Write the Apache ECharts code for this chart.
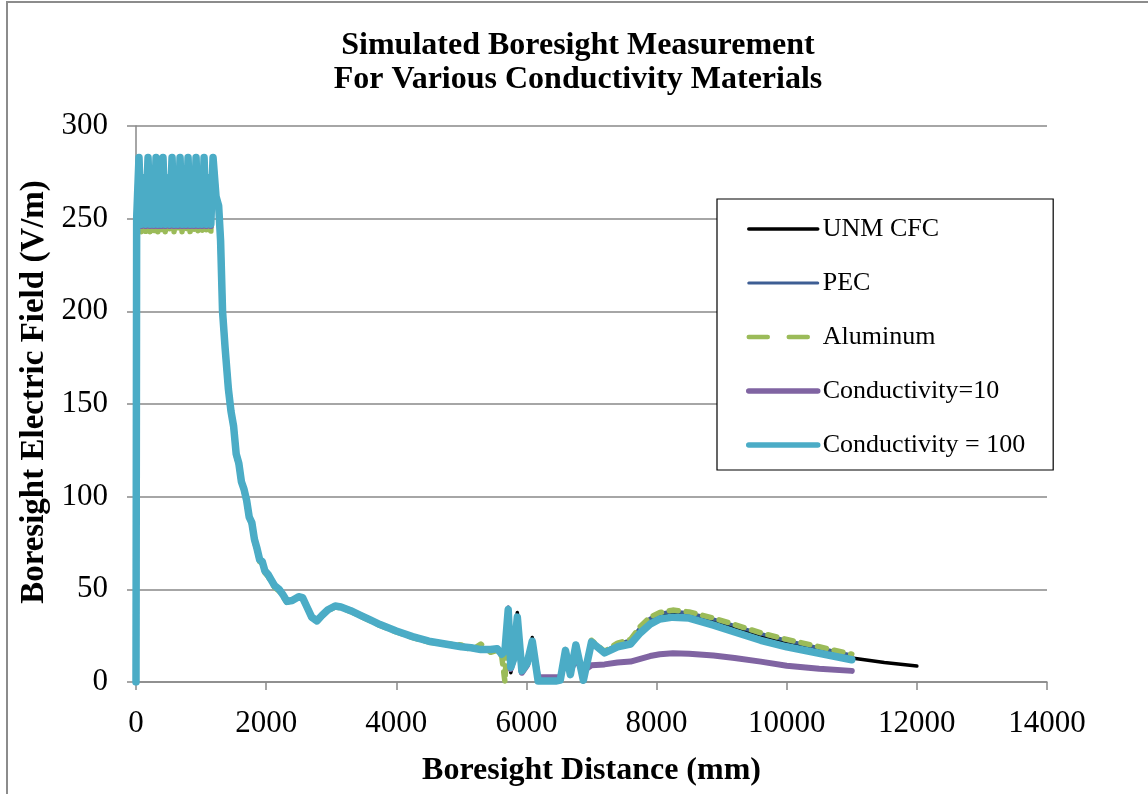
<!DOCTYPE html>
<html>
<head>
<meta charset="utf-8">
<script src="https://cdn.jsdelivr.net/npm/echarts@6/dist/echarts.min.js"></script>
<style>
html,body{margin:0;padding:0;background:#fff;}
#chart{width:1148px;height:794px;}
</style>
</head>
<body>
<div id="chart"></div>
<script>
// ---- data (mm, V/m) ----
const seriesNames = ['UNM CFC', 'PEC', 'Aluminum', 'Conductivity=10', 'Conductivity = 100'];
const xTicks = [0, 2000, 4000, 6000, 8000, 10000, 12000, 14000];
const yTicks = [0, 50, 100, 150, 200, 250, 300];

const distanceMm = [
  0, 10,
  46, 81, 115, 150, 185, 216, 246, 277, 308, 335, 362, 388, 415, 450, 485, 519, 554, 585, 615, 646,
  677, 708, 738, 769, 800, 831, 862, 892, 923, 954, 985, 1015, 1046, 1080, 1115, 1150, 1184,
  1230, 1270, 1300, 1330, 1370, 1420, 1460, 1500, 1540, 1580, 1620, 1660, 1700, 1740, 1780, 1820, 1860, 1900, 1940, 1980, 2030, 2080, 2130, 2200, 2260, 2320,
  2400, 2500, 2560, 2620, 2700, 2780, 2860, 2950, 3060, 3150, 3300, 3450, 3600, 3750, 4000, 4250, 4500, 4750, 5000, 5150, 5300, 5450,
  5550, 5620, 5670, 5720, 5760, 5800, 5860, 5930, 6010, 6090, 6180, 6300, 6450, 6520, 6600, 6675, 6760, 6875, 7000, 7200,
  7400, 7600, 7750, 7900, 8050, 8250, 8500, 8875, 9200, 9600, 10000, 10500, 11000
];

const unmCfcField = [
  0, 250,
  283, 246, 272, 246, 283, 246, 272, 246, 283, 246, 272, 246, 283, 246, 272, 246, 283, 246, 272, 246,
  283, 246, 272, 246, 283, 246, 272, 246, 283, 246, 272, 246, 283, 246, 272, 246, 283,
  263, 258, 238, 200, 180, 158, 146, 138, 123, 118, 108, 104, 98, 89, 86, 77, 72, 66, 65, 60, 58, 55, 52, 50, 47, 43.5,
  44, 46, 45.5, 41, 35, 33, 36, 39, 41.5, 41, 39, 36.5, 34, 31.5, 28, 25, 22.5, 21, 19.5, 19, 18, 18,
  18, 15, 17, 38, 5, 12, 37.5, 6, 10, 24, 0.5, 0.5, 0.5, 1, 18, 4, 20, 0, 21.5, 16,
  20, 21.8, 28.5, 33, 35.5, 36.5, 36, 32.5, 29, 24.5, 21, 17, 13
];
const unmCfcTailMm = [11000, 11500, 12000];
const unmCfcTailField = [13, 10.5, 8.6];

const pecField = [
  0, 250,
  283, 245, 272, 245, 283, 245, 272, 245, 283, 245, 272, 245, 283, 245, 272, 245, 283, 245, 272, 245,
  283, 245, 272, 245, 283, 245, 272, 245, 283, 245, 272, 245, 283, 245, 272, 245, 283,
  262, 257, 238, 200, 180, 158, 146, 138, 123, 118, 108, 104, 98, 89, 86, 77, 72, 66, 65, 60, 58, 55, 52, 50, 47, 43.5,
  44, 46, 45.5, 41, 35, 33, 36, 39, 41, 40.5, 38.5, 36, 33.5, 31, 27.5, 24.5, 22, 20.5, 19, 18.5, 17.5, 17.5,
  18.5, 15, 17, 40.5, 8, 12, 35, 6, 10, 22, 0.5, 0.5, 0.5, 1, 17.5, 4, 20.5, 1.5, 22, 16.3,
  20.7, 22.6, 29.5, 34.4, 37, 38.2, 37.2, 33.9, 30.4, 26, 22.4, 18.4, 14.4
];

const aluminumField = [
  0, 250,
  283, 243, 272, 243, 283, 243, 272, 243, 283, 243, 272, 243, 283, 243, 272, 243, 283, 243, 272, 243,
  283, 243, 272, 243, 283, 243, 272, 243, 283, 243, 272, 243, 283, 243, 272, 243, 283,
  262, 256, 237, 200, 179, 157, 145, 137, 122, 117, 107, 103, 97, 88, 85, 76, 71, 65, 64, 59, 57, 54, 51, 49, 46, 43,
  44, 45.5, 45, 40.5, 34.5, 32.5, 35.5, 38.5, 40.5, 40, 38, 35.5, 33, 30.5, 27, 24, 21.5, 20.5, 20, 17, 20.5, 16,
  17, 14, 0, 38, 8, 11, 35, 6, 10, 22, 0.5, 0.5, 0.5, 1, 17, 4, 21, 1.5, 22.5, 16.5,
  21, 23, 30, 35, 37.5, 38.8, 37.8, 34.5, 31, 26.5, 23, 19, 15
];

const cond10Field = [
  0, 250,
  283, 246, 272, 246, 283, 246, 272, 246, 283, 246, 272, 246, 283, 246, 272, 246, 283, 246, 272, 246,
  283, 246, 272, 246, 283, 246, 272, 246, 283, 246, 272, 246, 283, 246, 272, 246, 283,
  262, 257, 238, 200, 180, 158, 146, 138, 123, 118, 108, 104, 98, 89, 86, 77, 72, 66, 65, 60, 58, 55, 52, 50, 47, 43.5,
  44, 46, 45.5, 41, 35, 33, 36, 39, 41, 40.5, 38.5, 36, 33.5, 31, 27.5, 24.5, 22, 20.5, 19, 18.5, 17.5, 17.5,
  18, 15, 17, 37, 7, 12, 33, 5, 9, 20, 2.5, 2.5, 2.5, 2.5, 12, 6, 12, 6, 9, 9.5,
  10.5, 11, 12.5, 14, 15, 15.5, 15.3, 14.3, 13, 11, 8.8, 7.2, 6
];

const cond100Field = [
  0, 250,
  283, 247, 272, 247, 283, 247, 272, 247, 283, 247, 272, 247, 283, 247, 272, 247, 283, 247, 272, 247,
  283, 247, 272, 247, 283, 247, 272, 247, 283, 247, 272, 247, 283, 247, 272, 247, 283,
  262, 257, 238, 200, 180, 158, 146, 138, 123, 118, 108, 104, 98, 89, 86, 77, 72, 66, 65, 60, 58, 55, 52, 50, 47, 43.5,
  44, 46, 45.5, 41, 35, 33, 36, 39, 41, 40.5, 38.5, 36, 33.5, 31, 27.5, 24.5, 22, 20.5, 19, 18.5, 17.5, 17.5,
  18, 15, 17, 39, 8, 12, 35, 6, 10, 22, 0.5, 0.5, 0.5, 1, 17, 4, 20, 1, 21.5, 15.7,
  19, 20.5, 26.5, 31.2, 34, 35, 34.5, 30.7, 27, 22.5, 19, 15.5, 12
];

// ---- build ----
function pairs(xs, ys) { return xs.map((x, i) => [x, ys[i]]); }
const cfcData = pairs(distanceMm, unmCfcField).concat(pairs(unmCfcTailMm, unmCfcTailField).slice(1));

const serif = 'Liberation Serif, Times New Roman, serif';
const gray = '#898989';

const chart = echarts.init(document.getElementById('chart'), null, {renderer: 'canvas'});
function lineSeries(name, data, color, width, type) {
  return {
    name, type: 'line', data, symbol: 'none', showSymbol: false, smooth: false, animation: false,
    lineStyle: {color, width, type: type || 'solid', cap: 'round', join: 'round'},
    itemStyle: {color},
    emphasis: {disabled: true}
  };
}
const option = {
  animation: false,
  backgroundColor: '#fff',
  graphic: [{
    type: 'rect', shape: {x: 7, y: 2, width: 1400, height: 1000},
    style: {fill: 'none', stroke: '#8c8c8c', lineWidth: 2}, silent: true, z: -1
  }],
  title: {
    text: 'Simulated Boresight Measurement\nFor Various Conductivity Materials',
    left: 578, top: 29, textAlign: 'center', padding: 0,
    textStyle: {fontFamily: serif, fontWeight: 'bold', fontSize: 32, lineHeight: 34, color: '#000'}
  },
  grid: {left: 136, right: 101, top: 126, bottom: 112, containLabel: false},
  xAxis: {
    type: 'value', min: 0, max: 14000, interval: 2000,
    name: 'Boresight Distance (mm)', nameLocation: 'middle', nameGap: 73,
    nameTextStyle: {fontFamily: serif, fontWeight: 'bold', fontSize: 32, color: '#000'},
    axisLine: {show: true, onZero: false, lineStyle: {color: gray, width: 1.5}},
    axisTick: {show: true, inside: false, length: 8, lineStyle: {color: gray, width: 1.5}},
    axisLabel: {margin: 26, fontFamily: serif, fontSize: 31, color: '#000',
      formatter: v => (xTicks.indexOf(v) >= 0 ? String(v) : '')},
    splitLine: {show: false}
  },
  yAxis: {
    type: 'value', min: 0, max: 300, interval: 50,
    name: 'Boresight Electric Field (V/m)', nameLocation: 'middle', nameGap: 77, nameRotate: 90,
    nameTextStyle: {fontFamily: serif, fontWeight: 'bold', fontSize: 33, color: '#000', padding: [0, 0, 0, 24]},
    axisLine: {show: true, lineStyle: {color: gray, width: 1.5}},
    axisTick: {show: true, inside: false, length: 9, lineStyle: {color: gray, width: 1.5}},
    axisLabel: {margin: 28, fontFamily: serif, fontSize: 31, color: '#000',
      formatter: v => (yTicks.indexOf(v) >= 0 ? String(v) : '')},
    splitLine: {show: true, lineStyle: {color: gray, width: 1.5}}
  },
  legend: {
    orient: 'vertical', left: 717, top: 199,
    padding: [17, 28, 12, 29],
    itemWidth: 69, itemHeight: 14, itemGap: 28,
    backgroundColor: '#fff', borderColor: '#000', borderWidth: 1.2, borderRadius: 0,
    itemStyle: {opacity: 0, borderWidth: 0},
    textStyle: {fontFamily: serif, fontSize: 26, color: '#000', lineHeight: 26},
    selectedMode: false,
    data: [
      {name: seriesNames[0], lineStyle: {width: 3.5, color: '#000', cap: 'round', opacity: 1}},
      {name: seriesNames[1], lineStyle: {width: 3, color: '#3E5E94', cap: 'round', opacity: 1}},
      {name: seriesNames[2], lineStyle: {width: 4.5, color: '#9BBB59', type: [19, 21], cap: 'round', opacity: 1}},
      {name: seriesNames[3], lineStyle: {width: 5.5, color: '#8064A2', cap: 'round', opacity: 1}},
      {name: seriesNames[4], lineStyle: {width: 5.5, color: '#4BACC6', cap: 'round', opacity: 1}}
    ]
  },
  series: [
    lineSeries(seriesNames[0], cfcData, '#000000', 3.5),
    lineSeries(seriesNames[1], pairs(distanceMm, pecField), '#3E5E94', 3.5),
    lineSeries(seriesNames[2], pairs(distanceMm, aluminumField), '#9BBB59', 5.5, [9, 8]),
    lineSeries(seriesNames[3], pairs(distanceMm, cond10Field), '#8064A2', 6),
    lineSeries(seriesNames[4], pairs(distanceMm, cond100Field), '#4BACC6', 7.5)
  ]
};
chart.setOption(option);
</script>
</body>
</html>
